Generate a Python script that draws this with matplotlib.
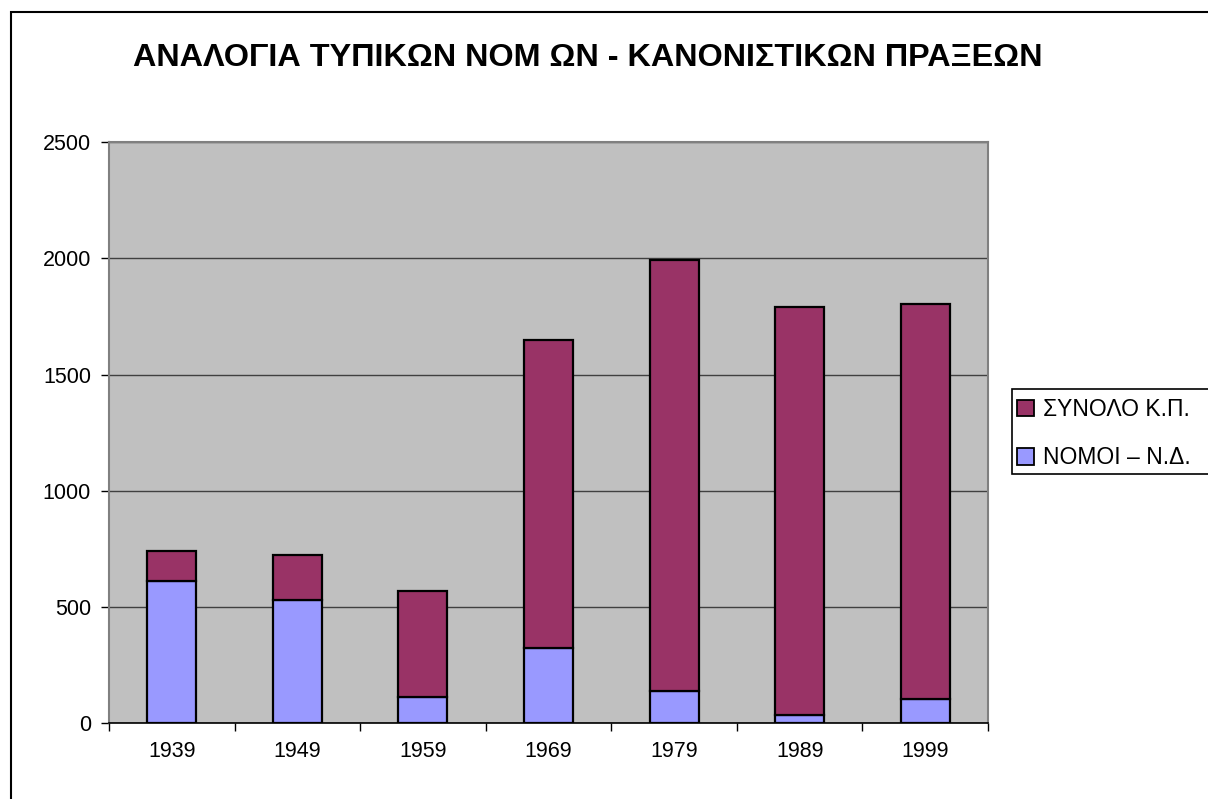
import matplotlib.pyplot as plt
from matplotlib.patches import Rectangle, Patch
import numpy as np

plt.rcParams['font.family'] = ['Liberation Sans', 'DejaVu Sans']

years = ['1939', '1949', '1959', '1969', '1979', '1989', '1999']
total_kp = [742, 724, 570, 1649, 1993, 1792, 1802]   # ΣΥΝΟΛΟ Κ.Π.
laws_nd = [614, 532, 113, 324, 140, 34, 103]        # ΝΟΜΟΙ – Ν.Δ.

purple = '#993366'
blue = '#9999FF'

fig = plt.figure(figsize=(12.08, 7.99), dpi=100)
ax = fig.add_axes([109 / 1208, 1 - 723.3 / 799, 879 / 1208, (723.3 - 142) / 799])
ax.set_facecolor('#C0C0C0')

x = np.arange(len(years))
rest = [t - n for t, n in zip(total_kp, laws_nd)]
ax.bar(x, laws_nd, width=0.39, color=blue, edgecolor='black', linewidth=1.6, zorder=3)
ax.bar(x, rest, width=0.39, bottom=laws_nd, color=purple, edgecolor='black', linewidth=1.6, zorder=3)

ax.set_xlim(-0.5, len(years) - 0.5)
ax.set_ylim(0, 2500)
ax.set_yticks(range(0, 2501, 500))
ax.yaxis.grid(True, color='#404040', linewidth=1.0, zorder=1)
ax.set_axisbelow(True)

# category labels at centre, tick marks at the boundaries
ax.set_xticks(x)
ax.set_xticklabels(years)
ax.tick_params(axis='x', which='major', length=0, pad=13, labelsize=15.5)
ax.set_xticks(np.arange(-0.5, len(years)), minor=True)
ax.tick_params(axis='x', which='minor', length=6, width=1, color='black')
ax.tick_params(axis='y', length=6, width=1, labelsize=15.5, pad=7)

for side in ['top', 'right', 'left']:
    ax.spines[side].set_color('#808080')
    ax.spines[side].set_linewidth(1.5)
ax.spines['bottom'].set_color('black')
ax.spines['bottom'].set_linewidth(1.2)

fig.text(588 / 1208, 1 - 58 / 799, 'ΑΝΑΛΟΓΙΑ ΤΥΠΙΚΩΝ ΝΟΜ ΩΝ - ΚΑΝΟΝΙΣΤΙΚΩΝ ΠΡΑΞΕΩΝ',
         ha='center', va='center', fontsize=23.3, fontweight='bold')

# outer chart frame (clipped at right/bottom like the reference)
fig.patches.append(Rectangle((11 / 1208, -0.05), 1.1, 1 - 12 / 799 + 0.05,
                             transform=fig.transFigure, fill=False,
                             edgecolor='black', linewidth=1.5))

# legend box
fig.patches.append(Rectangle((1012 / 1208, 1 - 474 / 799), 0.2, 85 / 799,
                             transform=fig.transFigure, facecolor='white',
                             edgecolor='black', linewidth=1.2))
handles = [Patch(facecolor=purple, edgecolor='black', linewidth=1.3),
           Patch(facecolor=blue, edgecolor='black', linewidth=1.3)]
fig.legend(handles, ['ΣΥΝΟΛΟ Κ.Π.', 'ΝΟΜΟΙ – Ν.Δ.'], loc='center left',
           bbox_to_anchor=(1017 / 1208, 1 - 433.5 / 799), frameon=False,
           fontsize=16.5, handlelength=0.75, handleheight=0.75, handletextpad=0.4,
           labelspacing=1.1, borderaxespad=0, borderpad=0)

fig.savefig('out.png', dpi=100)
